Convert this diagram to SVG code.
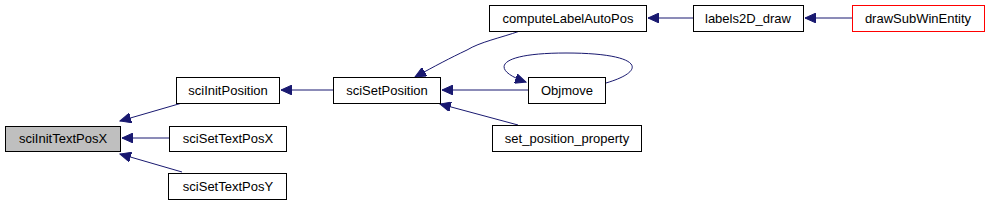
<svg xmlns="http://www.w3.org/2000/svg" width="989" height="202" viewBox="0 0 989 202">
<style>
.n rect{fill:#fff;stroke:#000;stroke-width:1}
.n text{font-family:"Liberation Sans",Arial,sans-serif;font-size:13px;text-anchor:middle;fill:#000}
.e{fill:none;stroke:#191970;stroke-width:1;marker-end:url(#ah)}
</style>
<defs>
<marker id="ah" markerWidth="12" markerHeight="10" refX="11" refY="5" orient="auto" markerUnits="userSpaceOnUse">
<path d="M0,0 L11,5 L0,10 Z" fill="#191970" stroke="#191970"/>
</marker>
</defs>
<rect width="989" height="202" fill="#fff"/>
<g id="edges">
<path class="e" d="M182,103 L120,121"/>
<path class="e" d="M169,138 L122,138"/>
<path class="e" d="M182,172 L120,154"/>
<path class="e" d="M333,90 L281,90"/>
<path class="e" d="M520,31 C500,38 480,42 467,50 C450,58 435,66 415,77"/>
<path class="e" d="M528,90 L442,90"/>
<path class="e" d="M606,83 C650,70 640,53 566,53 C495,53 490,70 526,82"/>
<path class="e" d="M518,125 L440,104"/>
<path class="e" d="M693,18 L648,18"/>
<path class="e" d="M852,18 L805,18"/>
</g>
<g id="sciInitTextPosX" class="n"><rect x="5.5" y="126.5" width="115" height="25" style="fill:#bfbfbf"/><text x="63" y="143">sciInitTextPosX</text></g>
<g id="sciInitPosition" class="n"><rect x="176.5" y="77.5" width="103" height="26"/><text x="228" y="95">sciInitPosition</text></g>
<g id="sciSetTextPosX" class="n"><rect x="169.5" y="126.5" width="117" height="25"/><text x="228" y="143">sciSetTextPosX</text></g>
<g id="sciSetTextPosY" class="n"><rect x="168.5" y="173.5" width="118" height="26"/><text x="228" y="191">sciSetTextPosY</text></g>
<g id="sciSetPosition" class="n"><rect x="333.5" y="77.5" width="107" height="26"/><text x="387" y="95">sciSetPosition</text></g>
<g id="computeLabelAutoPos" class="n"><rect x="489.5" y="5.5" width="157" height="26"/><text x="568" y="23">computeLabelAutoPos</text></g>
<g id="Objmove" class="n"><rect x="528.5" y="77.5" width="77" height="26"/><text x="567" y="95">Objmove</text></g>
<g id="set_position_property" class="n"><rect x="492.5" y="125.5" width="149" height="26"/><text x="567" y="143">set_position_property</text></g>
<g id="labels2D_draw" class="n"><rect x="693.5" y="5.5" width="110" height="26"/><text x="748" y="23">labels2D_draw</text></g>
<g id="drawSubWinEntity" class="n"><rect x="852.5" y="5.5" width="132" height="26" style="stroke:#f00"/><text x="918" y="23">drawSubWinEntity</text></g>
</svg>
